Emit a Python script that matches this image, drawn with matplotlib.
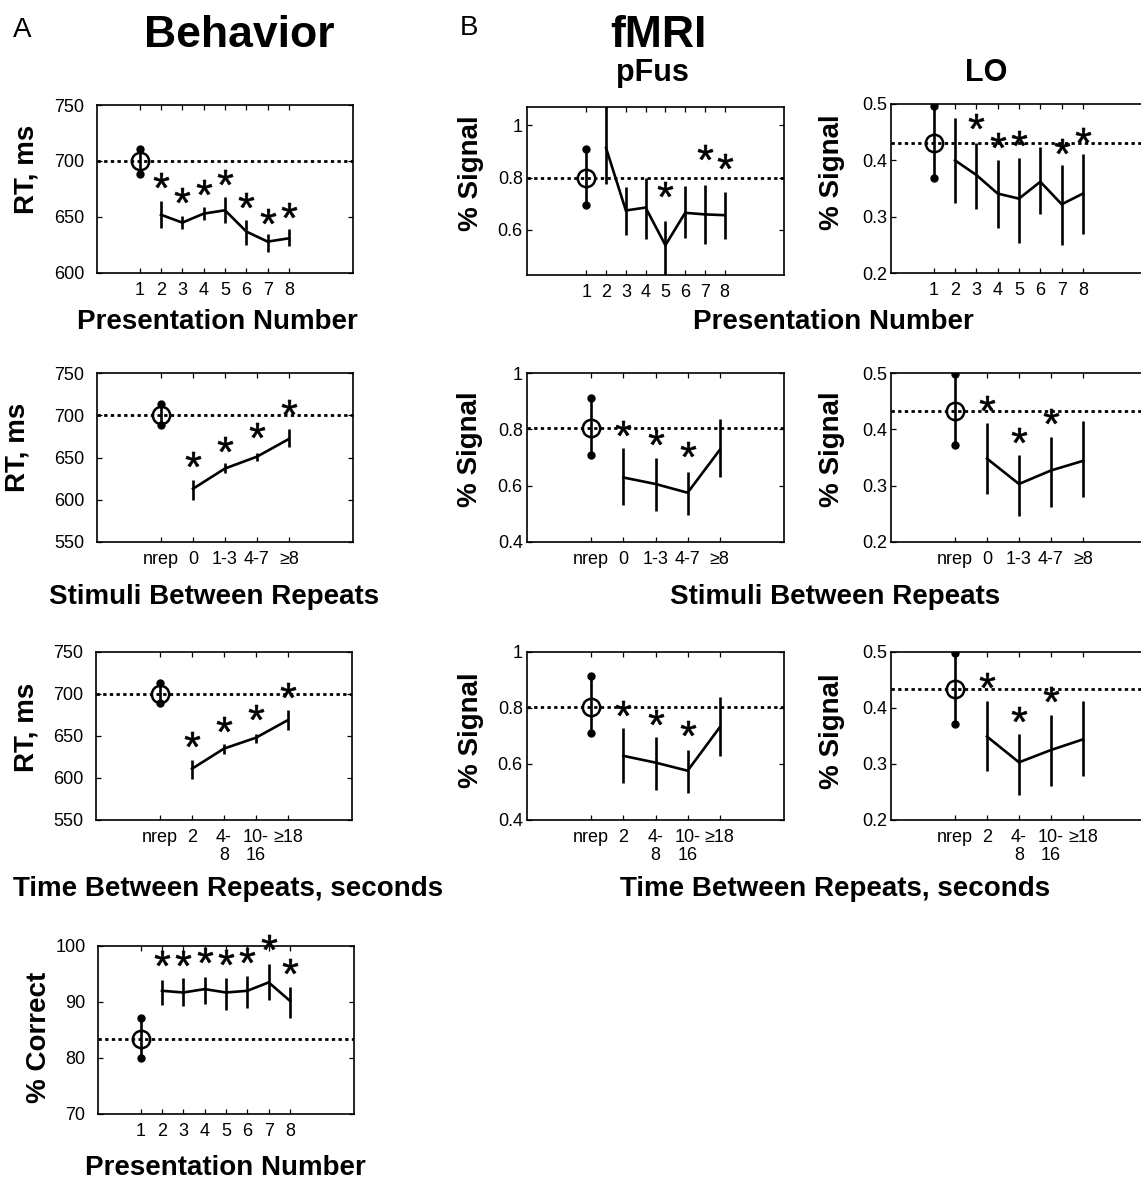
import numpy as np
import matplotlib
matplotlib.use('Agg')
import matplotlib.pyplot as plt
from matplotlib.textpath import TextPath
from matplotlib.font_manager import FontProperties
from matplotlib.path import Path

plt.rcParams['font.family'] = ['Liberation Sans', 'DejaVu Sans']

W, H = 1141, 1182
DPI = 100

# ------------------------------------------------------------------ data
pres_x = [1, 2, 3, 4, 5, 6, 7, 8]
pres_labels = ['1', '2', '3', '4', '5', '6', '7', '8']
cat_x = [1, 2, 3, 4, 5]
stim_labels = ['nrep', '0', '1-3', '4-7', '\u22658']
time_labels = ['nrep', '2', '4-\n8', '10-\n16', '\u226518']

# Behavior: RT vs presentation number
beh_pres_mean = [700, 652, 645, 653, 656, 637, 628, 631]
beh_pres_lo = [688, 640, 639, 647, 645, 625, 619, 624]
beh_pres_hi = [711, 664, 651, 659, 668, 647, 635, 639]
beh_pres_star_x = [2, 3, 4, 5, 6, 7, 8]
beh_pres_star_y = [683, 670, 677, 686, 665, 651, 656]

# Behavior: RT vs stimuli between repeats
beh_stim_mean = [700, 613, 637, 651, 672]
beh_stim_lo = [689, 600, 632, 646, 662]
beh_stim_hi = [713, 623, 643, 655, 684]
beh_stim_star_x = [2, 3, 4, 5]
beh_stim_star_y = [648, 666, 683, 710]

# Behavior: RT vs time between repeats
beh_time_mean = [700, 611, 635, 648, 669]
beh_time_lo = [689, 599, 628, 642, 657]
beh_time_hi = [713, 621, 640, 652, 681]
beh_time_star_x = [2, 3, 4, 5]
beh_time_star_y = [646, 664, 679, 705]

# Behavior: % correct vs presentation number
beh_acc_mean = [83.4, 92.0, 91.7, 92.3, 91.7, 92.0, 93.5, 90.2]
beh_acc_lo = [80.0, 89.5, 89.2, 89.6, 88.6, 88.9, 90.4, 87.1]
beh_acc_hi = [87.2, 94.0, 94.2, 94.5, 94.3, 94.6, 96.8, 92.7]
beh_acc_star_x = [2, 3, 4, 5, 6, 7, 8]
beh_acc_star_y = [97.8, 97.8, 98.4, 98.1, 98.4, 100.8, 96.4]

# pFus
pfus_pres_mean = [0.800, 0.913, 0.674, 0.685, 0.541, 0.665, 0.659, 0.656]
pfus_pres_lo = [0.694, 0.774, 0.582, 0.563, 0.400, 0.569, 0.546, 0.563]
pfus_pres_hi = [0.911, 1.100, 0.762, 0.800, 0.633, 0.768, 0.772, 0.745]
pfus_pres_star_x = [5, 7, 8]
pfus_pres_star_y = [0.755, 0.896, 0.864]

pfus_stim_mean = [0.805, 0.629, 0.606, 0.575, 0.727]
pfus_stim_lo = [0.709, 0.533, 0.510, 0.495, 0.632]
pfus_stim_hi = [0.913, 0.733, 0.697, 0.650, 0.836]
pfus_stim_star_x = [2, 3, 4]
pfus_stim_star_y = [0.804, 0.772, 0.729]

pfus_time_mean = [0.805, 0.629, 0.605, 0.576, 0.731]
pfus_time_lo = [0.710, 0.531, 0.507, 0.495, 0.627]
pfus_time_hi = [0.913, 0.730, 0.698, 0.650, 0.839]
pfus_time_star_x = [2, 3, 4]
pfus_time_star_y = [0.800, 0.767, 0.728]

# LO
lo_pres_mean = [0.430, 0.400, 0.374, 0.341, 0.332, 0.362, 0.322, 0.341]
lo_pres_lo = [0.368, 0.324, 0.313, 0.279, 0.254, 0.304, 0.249, 0.270]
lo_pres_hi = [0.496, 0.475, 0.430, 0.400, 0.405, 0.423, 0.392, 0.411]
lo_pres_star_x = [3, 4, 5, 7, 8]
lo_pres_star_y = [0.469, 0.436, 0.440, 0.425, 0.445]

lo_stim_mean = [0.433, 0.348, 0.303, 0.327, 0.344]
lo_stim_lo = [0.372, 0.286, 0.246, 0.262, 0.279]
lo_stim_hi = [0.498, 0.411, 0.354, 0.387, 0.414]
lo_stim_star_x = [2, 3, 4]
lo_stim_star_y = [0.447, 0.390, 0.424]

lo_time_mean = [0.434, 0.349, 0.303, 0.325, 0.344]
lo_time_lo = [0.372, 0.287, 0.245, 0.261, 0.279]
lo_time_hi = [0.498, 0.412, 0.354, 0.387, 0.413]
lo_time_star_x = [2, 3, 4]
lo_time_star_y = [0.450, 0.390, 0.425]

# ------------------------------------------------------------------ helpers
fig = plt.figure(figsize=(W / DPI, H / DPI), dpi=DPI)

# star marker from a real asterisk glyph, centred on its drawn extent
_tp = TextPath((0, 0), '*', size=10,
               prop=FontProperties(family='Liberation Sans'))
_v = _tp.vertices.copy()
_codes = _tp.codes
_real = _codes != Path.CLOSEPOLY
_cx = (_v[_real, 0].min() + _v[_real, 0].max()) / 2
_cy = (_v[_real, 1].min() + _v[_real, 1].max()) / 2
_v[:, 0] -= _cx
_v[:, 1] -= _cy
_v[~_real] = 0.0
STAR = Path(_v, _codes)

LW = 1.9
TICKFS = 13
LABELFS = 20


def fx(px):
    return px / W


def fy(py):
    return 1 - py / H


def make_ax(left, top, width, height):
    return fig.add_axes([left / W, 1 - (top + height) / H, width / W, height / H])


def panel(ax, x, mean, lo, hi, sx, sy, xlim, ylim, yticks, yticklabels,
          xticklabels, ypad):
    x = np.asarray(x, float)
    mean = np.asarray(mean, float)
    lo = np.asarray(lo, float)
    hi = np.asarray(hi, float)
    # baseline dotted line at the non-repeated mean
    ax.axhline(mean[0], color='k', lw=2.0, ls=(0, (1.2, 1.2)), zorder=1)
    # baseline point with dot-ended error bar
    ax.vlines(x[:1], lo[:1], hi[:1], color='k', lw=LW, zorder=3)
    ax.plot([x[0], x[0]], [lo[0], hi[0]], 'o', color='k', ms=5, ls='none', zorder=4)
    ax.plot(x[:1], mean[:1], 'o', mfc='none', mec='k', ms=12.5, mew=1.8, zorder=4)
    # repeated conditions
    ax.plot(x[1:], mean[1:], '-', color='k', lw=LW, zorder=3, solid_joinstyle='miter')
    ax.vlines(x[1:], lo[1:], hi[1:], color='k', lw=LW, zorder=3)
    # significance stars
    ax.plot(sx, sy, ls='none', marker=STAR, ms=11, color='k', mew=0.4,
            clip_on=False, zorder=5)
    ax.set_xlim(*xlim)
    ax.set_ylim(*ylim)
    ax.set_xticks(x)
    ax.set_xticklabels(xticklabels, fontsize=TICKFS, linespacing=1.05)
    ax.set_yticks(yticks)
    ax.set_yticklabels(yticklabels, fontsize=TICKFS)
    ax.tick_params(direction='in', top=True, right=True, length=3.5, width=0.9)
    ax.tick_params(axis='y', pad=ypad)
    ax.tick_params(axis='x', pad=6.5)
    for s in ax.spines.values():
        s.set_linewidth(1.2)


# ------------------------------------------------------------------ Behavior
ax = make_ax(97, 105, 256, 168)
panel(ax, pres_x, beh_pres_mean, beh_pres_lo, beh_pres_hi, beh_pres_star_x,
      beh_pres_star_y, (-1, 11), (600, 750), [600, 650, 700, 750],
      ['600', '650', '700', '750'], pres_labels, 9)

ax = make_ax(97, 373, 256, 169)
panel(ax, cat_x, beh_stim_mean, beh_stim_lo, beh_stim_hi, beh_stim_star_x,
      beh_stim_star_y, (-1, 7), (550, 750), [550, 600, 650, 700, 750],
      ['550', '600', '650', '700', '750'], stim_labels, 9)

ax = make_ax(96, 652, 256, 168)
panel(ax, cat_x, beh_time_mean, beh_time_lo, beh_time_hi, beh_time_star_x,
      beh_time_star_y, (-1, 7), (550, 750), [550, 600, 650, 700, 750],
      ['550', '600', '650', '700', '750'], time_labels, 9)

ax = make_ax(98, 946, 256, 168)
panel(ax, pres_x, beh_acc_mean, beh_acc_lo, beh_acc_hi, beh_acc_star_x,
      beh_acc_star_y, (-1, 11), (70, 100), [70, 80, 90, 100],
      ['70', '80', '90', '100'], pres_labels, 9)

# ------------------------------------------------------------------ pFus
ax = make_ax(527, 107, 257, 168)
panel(ax, pres_x, pfus_pres_mean, pfus_pres_lo, pfus_pres_hi, pfus_pres_star_x,
      pfus_pres_star_y, (-2, 11), (0.427, 1.07), [0.6, 0.8, 1.0],
      ['0.6', '0.8', '1'], pres_labels, 3)

ax = make_ax(527, 373, 257, 169)
panel(ax, cat_x, pfus_stim_mean, pfus_stim_lo, pfus_stim_hi, pfus_stim_star_x,
      pfus_stim_star_y, (-1, 7), (0.4, 1.0), [0.4, 0.6, 0.8, 1.0],
      ['0.4', '0.6', '0.8', '1'], stim_labels, 3)

ax = make_ax(527, 652, 257, 168)
panel(ax, cat_x, pfus_time_mean, pfus_time_lo, pfus_time_hi, pfus_time_star_x,
      pfus_time_star_y, (-1, 7), (0.4, 1.0), [0.4, 0.6, 0.8, 1.0],
      ['0.4', '0.6', '0.8', '1'], time_labels, 3)

# ------------------------------------------------------------------ LO
ax = make_ax(891, 104, 256, 169)
panel(ax, pres_x, lo_pres_mean, lo_pres_lo, lo_pres_hi, lo_pres_star_x,
      lo_pres_star_y, (-1, 11), (0.2, 0.5), [0.2, 0.3, 0.4, 0.5],
      ['0.2', '0.3', '0.4', '0.5'], pres_labels, 3)

ax = make_ax(891, 373, 256, 169)
panel(ax, cat_x, lo_stim_mean, lo_stim_lo, lo_stim_hi, lo_stim_star_x,
      lo_stim_star_y, (-1, 7), (0.2, 0.5), [0.2, 0.3, 0.4, 0.5],
      ['0.2', '0.3', '0.4', '0.5'], stim_labels, 3)

ax = make_ax(891, 652, 256, 168)
panel(ax, cat_x, lo_time_mean, lo_time_lo, lo_time_hi, lo_time_star_x,
      lo_time_star_y, (-1, 7), (0.2, 0.5), [0.2, 0.3, 0.4, 0.5],
      ['0.2', '0.3', '0.4', '0.5'], time_labels, 3)

# ------------------------------------------------------------------ texts
def ftext(x, y, s, **kw):
    fig.text(fx(x), fy(y), s, **kw)

ftext(13, 37, 'A', fontsize=20, ha='left', va='baseline')
ftext(460, 35, 'B', fontsize=20, ha='left', va='baseline')
ftext(239, 47, 'Behavior', fontsize=32, fontweight='bold', ha='center', va='baseline')
ftext(658, 47, 'fMRI', fontsize=32, fontweight='bold', ha='center', va='baseline')
ftext(652, 81, 'pFus', fontsize=22, fontweight='bold', ha='center', va='baseline')
ftext(986, 81, 'LO', fontsize=22, fontweight='bold', ha='center', va='baseline')

# y labels
for (x, y, s) in [(27, 169, 'RT, ms'), (18, 447, 'RT, ms'), (27, 727, 'RT, ms'),
                  (39, 1037, '% Correct'),
                  (471, 173, '% Signal'), (470, 449, '% Signal'), (471, 730, '% Signal'),
                  (832, 172, '% Signal'), (832, 449, '% Signal'), (832, 731, '% Signal')]:
    ftext(x, y, s, fontsize=LABELFS, fontweight='bold', rotation=90,
          ha='center', va='center')

# x labels
for (x, y, s) in [(217, 322, 'Presentation Number'), (833, 322, 'Presentation Number'),
                  (214, 597, 'Stimuli Between Repeats'), (835, 597, 'Stimuli Between Repeats'),
                  (228, 889, 'Time Between Repeats, seconds'),
                  (835, 889, 'Time Between Repeats, seconds'),
                  (225, 1168, 'Presentation Number')]:
    ftext(x, y, s, fontsize=LABELFS, fontweight='bold', ha='center', va='center')

fig.savefig('out.png', dpi=DPI)
